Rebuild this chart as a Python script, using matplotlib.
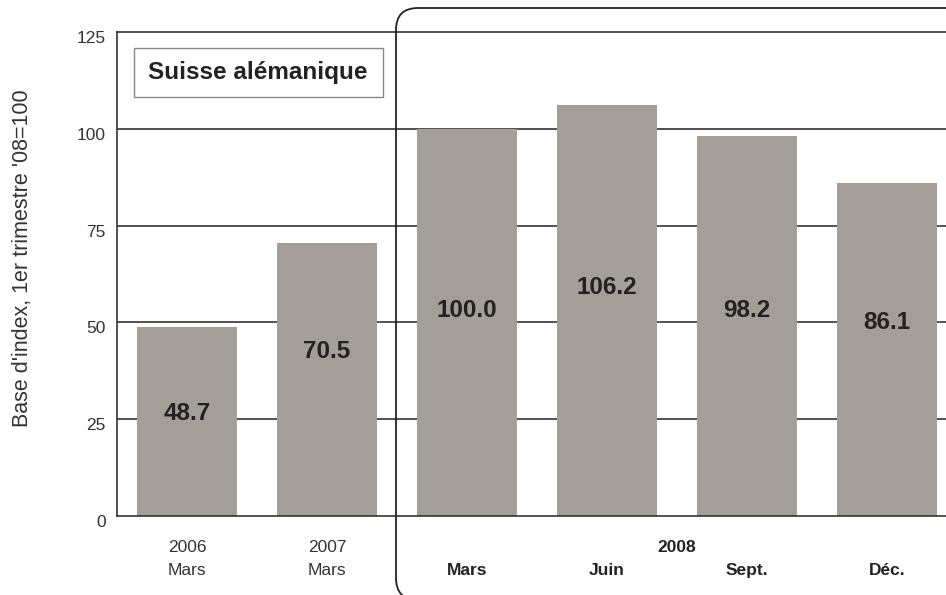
import matplotlib
matplotlib.use('Agg')
import matplotlib.pyplot as plt
import matplotlib.patches as mpatches
import matplotlib.transforms as mtransforms

plt.rcParams['font.family'] = ['Liberation Sans', 'DejaVu Sans']

# Data
years = ['2006', '2007', '2008', '2008', '2008', '2008']
months = ['Mars', 'Mars', 'Mars', 'Juin', 'Sept.', 'Déc.']
values = [48.7, 70.5, 100.0, 106.2, 98.2, 86.1]
yticks = [0, 25, 50, 75, 100, 125]
title_box = 'Suisse alémanique'
ylabel = "Base d'index, 1er trimestre '08=100"

# where the value labels sit inside the bars
label_y = [26.5, 42.5, 53, 59, 53, 50]

bar_color = '#a39e98'
line_color = '#333333'

fig = plt.figure(figsize=(9.46, 5.95), dpi=100)
ax = fig.add_axes([117 / 946, 79 / 595, 1 - 117 / 946, 484 / 595])

x = list(range(len(values)))
ax.bar(x, values, width=100 / 140, color=bar_color, zorder=2)

ax.set_xlim(-0.5, 5.42)
ax.set_ylim(0, 125)
ax.set_yticks(yticks)
ax.set_yticklabels([str(t) for t in yticks], fontsize=12.5, color='#333333')
ax.tick_params(axis='y', length=0, pad=8)
ax.set_xticks([])

# tick labels sit a little below their gridline
shift = mtransforms.ScaledTranslation(0, -5 / 100, fig.dpi_scale_trans)
for lbl in ax.get_yticklabels():
    lbl.set_transform(lbl.get_transform() + shift)

for t in yticks[1:-1]:
    ax.axhline(t, color=line_color, lw=1.2, zorder=1)

ax.spines['right'].set_visible(False)
for side in ['left', 'top', 'bottom']:
    ax.spines[side].set_color(line_color)
    ax.spines[side].set_linewidth(1.2)

# value labels
for xi, v, ly in zip(x, values, label_y):
    ax.text(xi, ly, f'{v:.1f}', ha='center', va='center', fontsize=17.5,
            fontweight='bold', color='#222222', zorder=3)

# category labels below the axis
trans = ax.get_xaxis_transform()
for xi in x[:2]:
    ax.text(xi, -0.066, years[xi], transform=trans, ha='center', va='center',
            fontsize=12.5, color='#333333')
    ax.text(xi, -0.112, months[xi], transform=trans, ha='center', va='center',
            fontsize=12.5, color='#333333')
for xi in x[2:]:
    ax.text(xi, -0.112, months[xi], transform=trans, ha='center', va='center',
            fontsize=12.5, fontweight='bold', color='#222222')
ax.text(sum(x[2:]) / 4, -0.066, years[2], transform=trans, ha='center',
        va='center', fontsize=12.5, fontweight='bold', color='#222222')

# y label
fig.text(23 / 946, 1 - 258 / 595, ylabel, rotation=90, ha='center', va='center',
         fontsize=15.5, color='#333333')

# title box
rect = mpatches.Rectangle((1.34, 4.98), 2.49, 0.49, transform=fig.dpi_scale_trans,
                          fill=False, edgecolor='#888888', lw=1)
fig.patches.append(rect)
fig.text(258 / 946, 1 - 73 / 595, title_box, ha='center', va='center',
         fontsize=17.5, fontweight='bold', color='#222222')

# rounded frame around 2008, its right side runs off the picture
frame = mpatches.FancyBboxPatch((3.96, -0.05), 5.72, 5.92,
                                boxstyle='round,pad=0,rounding_size=0.22',
                                transform=fig.dpi_scale_trans, fill=False,
                                edgecolor='#222222', lw=1.3)
fig.patches.append(frame)

fig.savefig('out.png', dpi=100)
